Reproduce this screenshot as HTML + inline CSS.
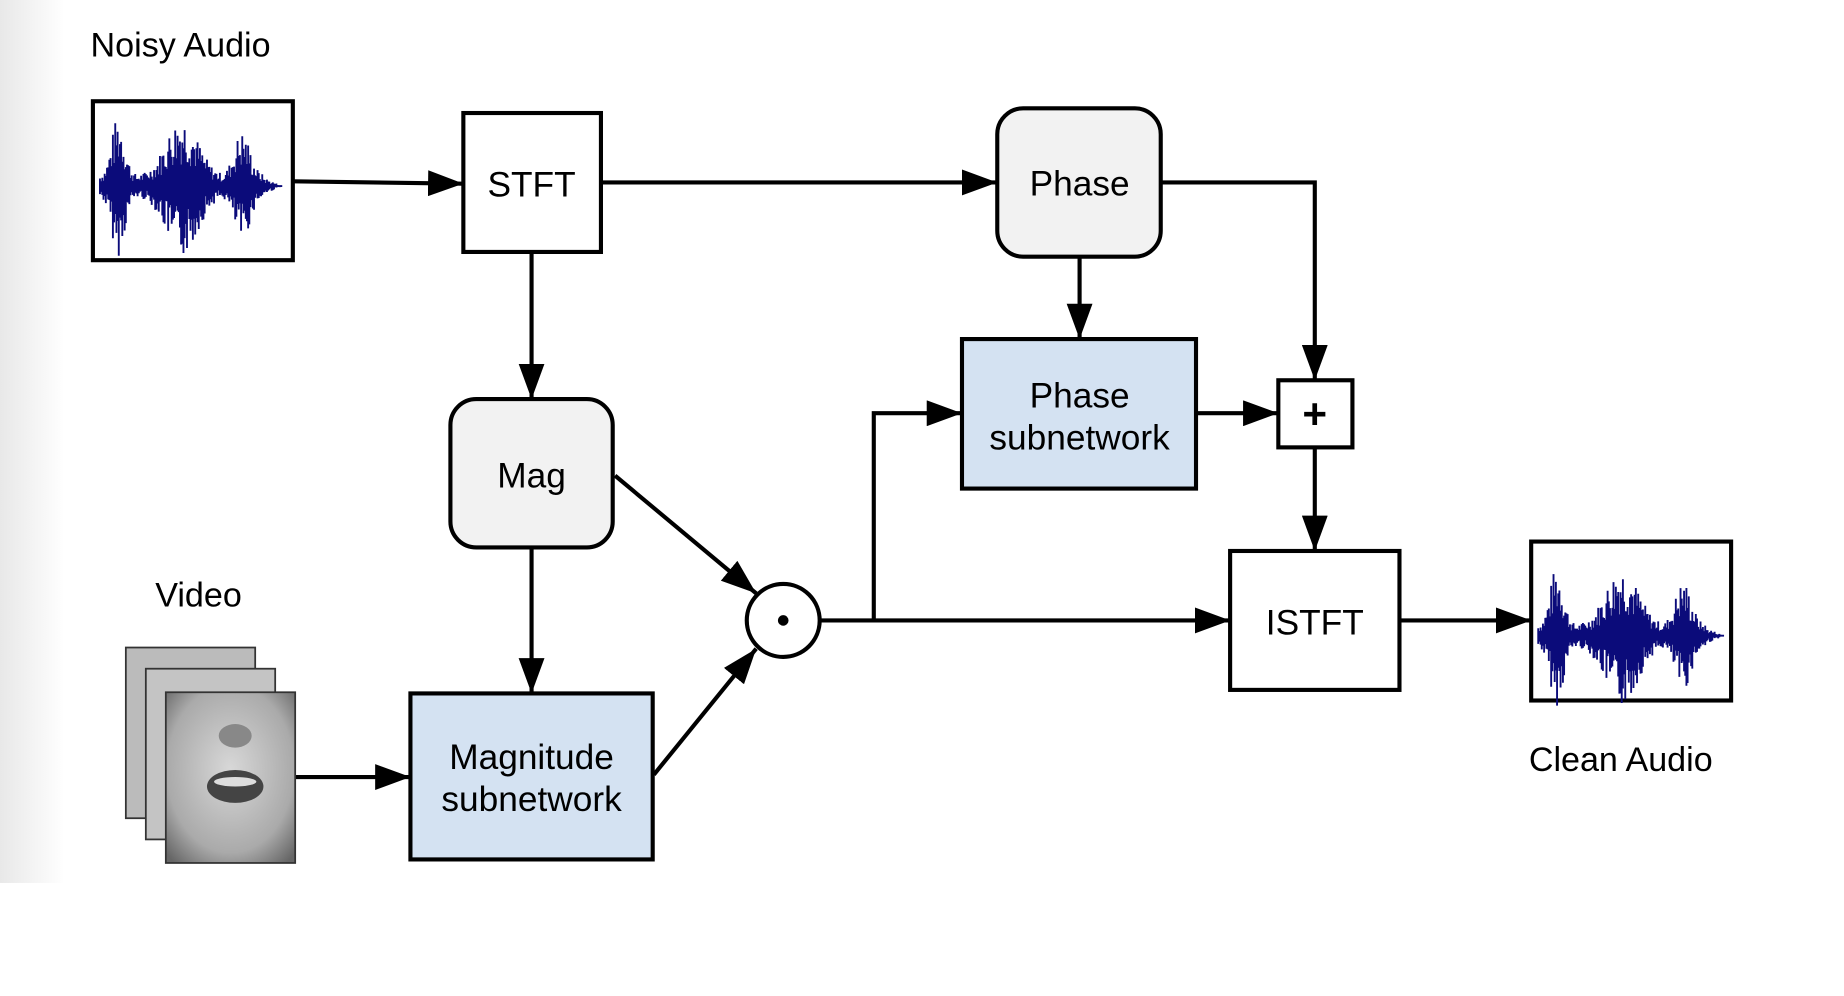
<!DOCTYPE html>
<html><head><meta charset="utf-8"><style>
html,body{margin:0;padding:0;background:#fff;}
svg{display:block}
text{font-family:"Liberation Sans",Arial,sans-serif;fill:#000}
</style></head><body>
<svg id="s" width="1844" height="996" viewBox="0 0 1568 846" preserveAspectRatio="none" xmlns="http://www.w3.org/2000/svg">
<defs>
<linearGradient id="lg" x1="0" x2="1"><stop offset="0" stop-color="#e8e8e8"/><stop offset="1" stop-color="#fff"/></linearGradient>
<marker id="A" markerWidth="30" markerHeight="22" refX="30" refY="11" orient="auto" markerUnits="userSpaceOnUse"><path d="M0,0L30,11L0,22z" fill="#000"/></marker>
<radialGradient id="face" cx="0.5" cy="0.45" r="0.7"><stop offset="0" stop-color="#d8d8d8"/><stop offset="0.7" stop-color="#aaa"/><stop offset="1" stop-color="#666"/></radialGradient>
</defs>
<rect x="0" y="0" width="55" height="750" fill="url(#lg)"/>
<text x="77" y="48" font-size="29">Noisy Audio</text>
<text x="132" y="515" font-size="29">Video</text>
<text x="1300" y="655" font-size="29">Clean Audio</text>

<g stroke="#000" stroke-width="3.5" fill="none">
<line x1="249" y1="154" x2="394" y2="156" marker-end="url(#A)"/>
<line x1="511" y1="155" x2="848" y2="155" marker-end="url(#A)"/>
<polyline points="987,155 1118,155 1118,323" marker-end="url(#A)"/>
<line x1="918" y1="218" x2="918" y2="288" marker-end="url(#A)"/>
<line x1="1017" y1="351" x2="1087" y2="351" marker-end="url(#A)"/>
<line x1="1118" y1="380" x2="1118" y2="468" marker-end="url(#A)"/>
<line x1="452" y1="214" x2="452" y2="339" marker-end="url(#A)"/>
<line x1="452" y1="465" x2="452" y2="589" marker-end="url(#A)"/>
<line x1="523" y1="404" x2="643" y2="504" marker-end="url(#A)"/>
<line x1="556" y1="658" x2="643" y2="551" marker-end="url(#A)"/>
<line x1="698" y1="527" x2="1046" y2="527" marker-end="url(#A)"/>
<polyline points="743,527 743,351 818,351" marker-end="url(#A)"/>
<line x1="1190" y1="527" x2="1302" y2="527" marker-end="url(#A)"/>
<line x1="251" y1="660" x2="349" y2="660" marker-end="url(#A)"/>
</g>

<g stroke="#000" stroke-width="3.5">
<rect x="79" y="86" width="170" height="135" fill="#fff"/>
<rect x="1302" y="460" width="170" height="135" fill="#fff"/>
<rect x="394" y="96" width="117" height="118" fill="#fff"/>
<rect x="848" y="92" width="139" height="126" rx="22" fill="#f2f2f2"/>
<rect x="383" y="339" width="138" height="126" rx="22" fill="#f2f2f2"/>
<rect x="818" y="288" width="199" height="127" fill="#d4e2f2"/>
<rect x="349" y="589" width="206" height="141" fill="#d4e2f2"/>
<rect x="1087" y="323" width="63" height="57" fill="#fff"/>
<rect x="1046" y="468" width="144" height="118" fill="#fff"/>
<ellipse cx="666" cy="527" rx="31" ry="31" fill="#fff"/>
</g>
<circle cx="666" cy="527" r="4.5" fill="#000"/>
<text x="1118" y="364" font-size="36" text-anchor="middle" font-weight="bold">+</text>

<g font-size="30" text-anchor="middle">
<text x="452" y="167">STFT</text>
<text x="918" y="166">Phase</text>
<text x="452" y="414">Mag</text>
<text x="918" y="346">Phase</text>
<text x="918" y="382">subnetwork</text>
<text x="452" y="653">Magnitude</text>
<text x="452" y="689">subnetwork</text>
<text x="1118" y="539">ISTFT</text>
</g>

<g stroke="#333" stroke-width="1.5">
<rect x="107" y="550" width="110" height="145" fill="#bbb"/>
<rect x="124" y="568" width="110" height="145" fill="#c4c4c4"/>
<rect x="141" y="588" width="110" height="145" fill="url(#face)"/>
</g>
<ellipse cx="200" cy="625" rx="14" ry="10" fill="#888"/>
<ellipse cx="200" cy="668" rx="24" ry="14" fill="#444"/>
<ellipse cx="200" cy="664" rx="18" ry="4" fill="#ddd"/>

<path id="w1" fill="none" stroke="#0b0b7a" stroke-width="1.6"/>
<path id="w2" fill="none" stroke="#0b0b7a" stroke-width="1.6"/>
</svg>
<script>
function wave(id,x0,cy,w){
 var d="",seed=7;
 function r(){seed=(seed*9301+49297)%233280;return seed/233280;}
 for(var i=0;i<w;i+=1){
  var t=i/w;
  var env=0.15+0.85*Math.max(Math.exp(-Math.pow((t-0.1)/0.05,2)),Math.exp(-Math.pow((t-0.45)/0.12,2)),0.75*Math.exp(-Math.pow((t-0.78)/0.06,2)));
  if(t>0.9)env*=Math.max(0,(1-t)*8);
  var a=env*60*(0.3+0.7*r());
  var b=env*60*(0.3+0.7*r());
  d+="M"+(x0+i).toFixed(1)+","+(cy-a).toFixed(1)+"V"+(cy+b).toFixed(1);
 }
 d+="M"+x0+","+cy+"H"+(x0+w);
 document.getElementById(id).setAttribute("d",d);
}
wave("w1",85,158,155);
wave("w2",1308,540,158);
</script>
</body></html>
